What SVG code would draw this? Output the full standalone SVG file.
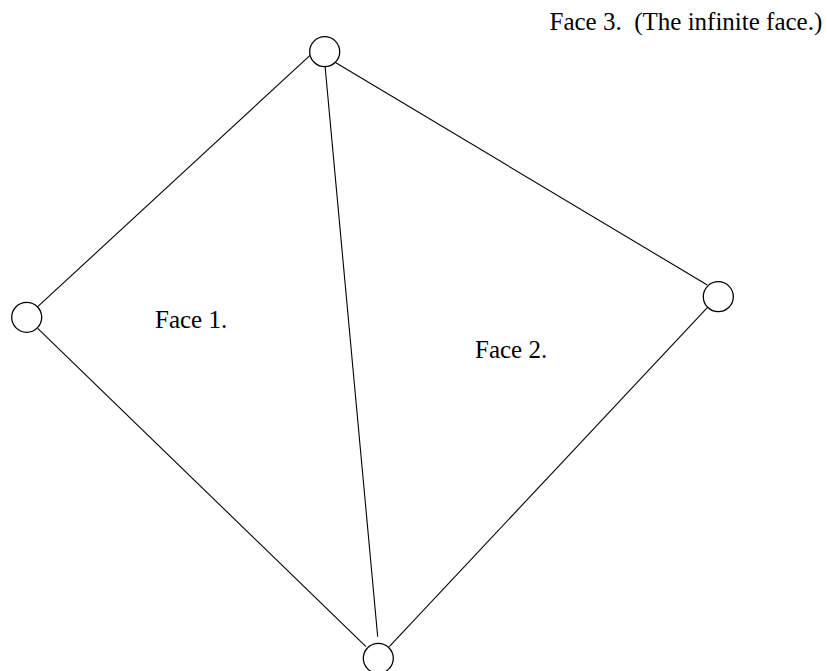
<svg xmlns="http://www.w3.org/2000/svg" width="827" height="671" viewBox="0 0 827 671">
<style>
.node{fill:#fff;stroke:#000;stroke-width:1.3}
.edge{stroke:#000;stroke-width:1.1;fill:none}
text{font-family:"Liberation Serif","Times New Roman",serif;font-size:25px;fill:#000}
</style>
<rect width="827" height="671" fill="#fff"/>
<g id="connectors">
<line class="edge" x1="313.3" y1="52.3" x2="37.7" y2="306.7"/>
<line class="edge" x1="324.7" y1="62.3" x2="377.7" y2="636.7"/>
<line class="edge" x1="335" y1="62.3" x2="707.3" y2="285"/>
<line class="edge" x1="37.7" y1="328.3" x2="366" y2="646.7"/>
<line class="edge" x1="707.3" y1="307.7" x2="389.3" y2="646.7"/>
</g>
<g id="node-top"><circle class="node" cx="324.7" cy="51.7" r="15"/></g>
<g id="node-left"><circle class="node" cx="26.7" cy="317.3" r="15"/></g>
<g id="node-right"><circle class="node" cx="718.3" cy="296.7" r="15"/></g>
<g id="node-bottom"><circle class="node" cx="378.3" cy="658.3" r="15"/></g>
<g id="labels">
<text x="549.5" y="30" xml:space="preserve">Face 3.  (The infinite face.)</text>
<text x="155" y="328.3">Face 1.</text>
<text x="475" y="358.3">Face 2.</text>
</g>
</svg>
